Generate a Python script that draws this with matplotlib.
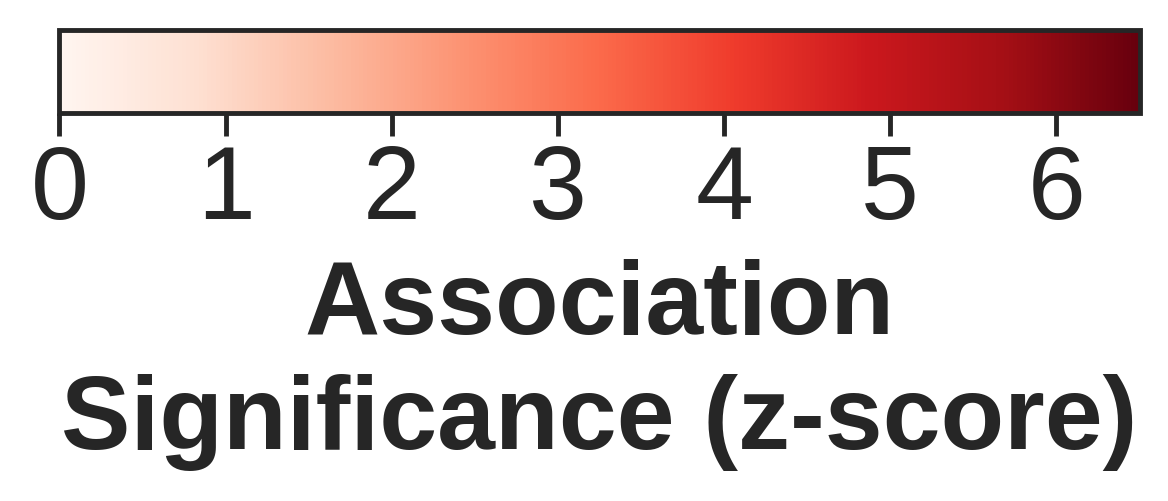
import matplotlib
matplotlib.use("Agg")
import matplotlib.pyplot as plt
import matplotlib as mpl

# colorbar range and ticks
zmin = 0
zmax = 6.5
ticks = [0, 1, 2, 3, 4, 5, 6]
label = "Association\nSignificance (z-score)"

plt.rcParams['font.family'] = ['Liberation Sans', 'DejaVu Sans']
dark = '#262626'

fig = plt.figure(figsize=(11.68, 5.02), dpi=100)
cax = fig.add_axes([0.0509, 0.7725, 0.9247, 0.1667])

norm = mpl.colors.Normalize(vmin=zmin, vmax=zmax)
sm = mpl.cm.ScalarMappable(norm=norm, cmap='Reds')
cb = fig.colorbar(sm, cax=cax, orientation='horizontal', ticks=ticks)

cb.outline.set_edgecolor(dark)
cb.outline.set_linewidth(3.5)
cax.tick_params(axis='x', length=16.5, width=3.5, color=dark, labelsize=75,
                labelcolor=dark, pad=5)
cb.set_label(label, fontsize=75, fontweight='bold', color=dark,
             linespacing=1.24, labelpad=13)

fig.savefig('out.png', dpi=100)
